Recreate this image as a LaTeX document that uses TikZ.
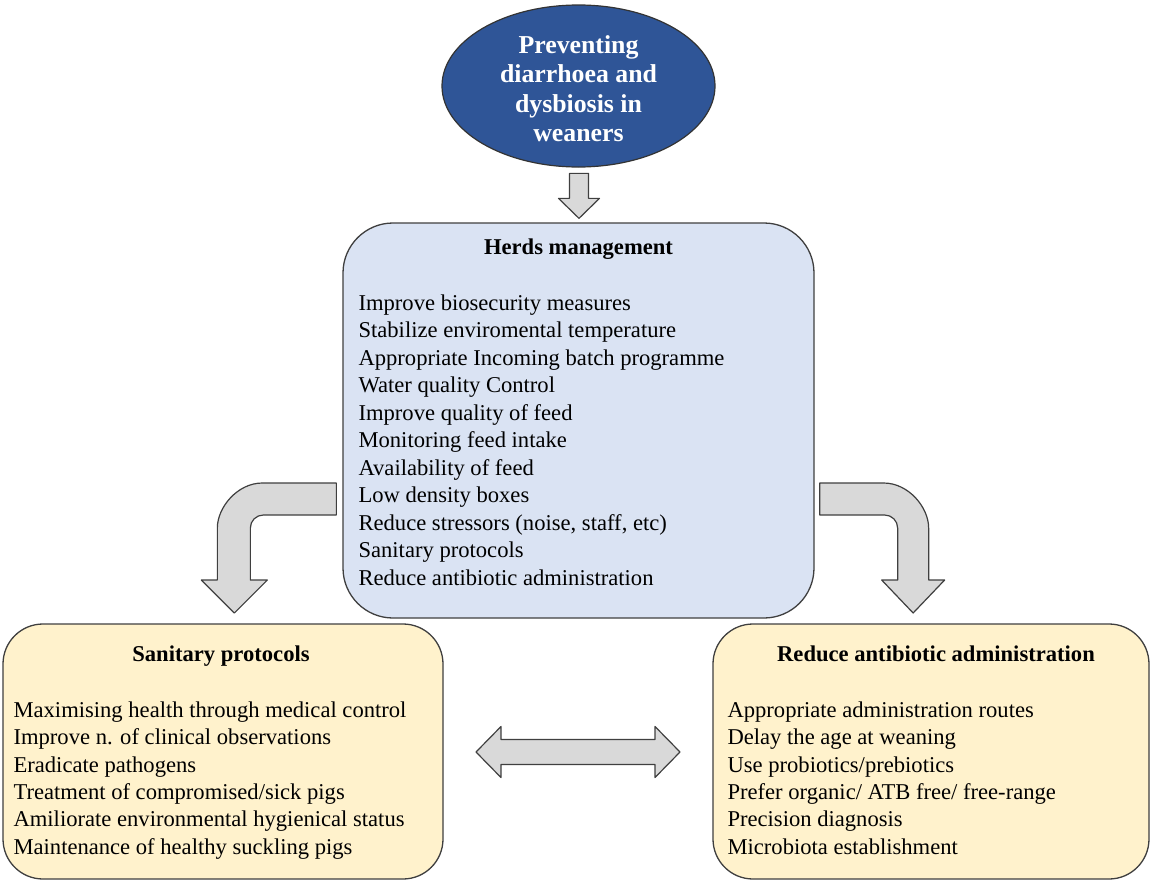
\documentclass[tikz,border=0pt]{standalone}
\usepackage{fontspec}
\setmainfont{Liberation Serif}
\usetikzlibrary{shapes.geometric, calc}

\definecolor{goalblue}{HTML}{2F5597}
\definecolor{herdsblue}{HTML}{DAE3F3}
\definecolor{boxyellow}{HTML}{FFF2CC}
\definecolor{arrowgray}{HTML}{D9D9D9}
\definecolor{edgegray}{HTML}{3F3F3F}

\begin{document}
\begin{tikzpicture}[
            x = 1pt, y = -1pt, % one unit per pixel, y runs downwards
            goal/.style = {ellipse, draw = black!80, fill = goalblue, line width = 1.2pt,
                minimum width = 273pt, minimum height = 162pt, inner sep = 0pt},
            goaltext/.style = {text = white, align = center, inner sep = 0pt,
                font = \fontsize{25.8}{29.5}\selectfont\bfseries},
            panel/.style = {draw = edgegray, line width = 1.3pt, inner sep = 0pt},
            headtext/.style = {anchor = base, inner sep = 0pt,
                font = \fontsize{22.6}{27.5}\selectfont\bfseries},
            itemtext/.style = {anchor = base west, inner sep = 0pt,
                font = \fontsize{22.6}{27.5}\selectfont},
            blockarrow/.style = {draw = edgegray, fill = arrowgray, line width = 1.2pt, line join = round}
        ]

        \useasboundingbox (0,0) rectangle (1152,881);

        % goal on top
        \node[goal] (goal) at (578.5,86) {};
        \node[goaltext] (goaltext) at (578.5,88.8) {Preventing\\diarrhoea and\\dysbiosis in\\weaners};

        % the three boxes
        \node[panel, fill = herdsblue, rounded corners = 50pt,
            minimum width = 471pt, minimum height = 395pt] (herds) at (578.5,420.5) {};
        \node[panel, fill = boxyellow, rounded corners = 40pt,
            minimum width = 440pt, minimum height = 255pt] (sanitary) at (223,751.5) {};
        \node[panel, fill = boxyellow, rounded corners = 40pt,
            minimum width = 436pt, minimum height = 255pt] (reduce) at (931,751.5) {};

        \node[headtext] (herdshead) at ($(herds.north)+(0,32.5)$) {Herds management};
        \node[headtext] (sanitaryhead) at ($(sanitary.north)+(-2,38)$) {Sanitary protocols};
        \node[headtext] (reducehead) at ($(reduce.north)+(5,38)$) {Reduce antibiotic administration};

        \foreach \txt [count=\i] in {Improve biosecurity measures, Stabilize enviromental temperature,
                Appropriate Incoming batch programme, Water quality Control, Improve quality of feed,
                Monitoring feed intake, Availability of feed, Low density boxes,
                {Reduce stressors (noise, staff, etc)}, Sanitary protocols, Reduce antibiotic administration}
            \node[itemtext] (herds\i) at ($(herds.north west)+(16,88+27.5*\i-27.5)$) {\txt};

        \foreach \txt [count=\i] in {Maximising health through medical control, Improve n. of clinical observations,
                Eradicate pathogens, Treatment of compromised/sick pigs,
                Amiliorate environmental hygienical status, Maintenance of healthy suckling pigs}
            \node[itemtext] (sanitary\i) at ($(sanitary.north west)+(11,94+27.4*\i-27.4)$) {\txt};

        \foreach \txt [count=\i] in {Appropriate administration routes, Delay the age at weaning,
                Use probiotics/prebiotics, Prefer organic/ ATB free/ free-range,
                Precision diagnosis, Microbiota establishment}
            \node[itemtext] (reduce\i) at ($(reduce.north west)+(15,94+27.4*\i-27.4)$) {\txt};

        % block arrows
        \draw[blockarrow, shift = {(herds.north)}] (-9,-49) -- (10,-49) -- (10,-24) -- (21,-24)
            -- (0.5,-4) -- (-20,-24) -- (-9,-24) -- cycle;
        \draw[blockarrow, shift = {(herds.west)}] (-6,62.5) -- (-80,62.5)
            .. controls (-104.8,62.5) and (-125,86.7) .. (-125,107.5) -- (-125,159.5) -- (-141,159.5)
            -- (-108,192.5) -- (-75,159.5) -- (-92,159.5) -- (-92,107.5)
            .. controls (-92,100.3) and (-86.2,94.5) .. (-79,94.5) -- (-6,94.5) -- cycle;
        \draw[blockarrow, shift = {(herds.east)}] (5,62.5) -- (69,62.5)
            .. controls (93.8,62.5) and (114,86.7) .. (114,107.5) -- (114,159.5) -- (130,159.5)
            -- (98.5,192.5) -- (67,159.5) -- (83,159.5) -- (83,107.5)
            .. controls (83,100.3) and (77.2,94.5) .. (70,94.5) -- (5,94.5) -- cycle;
        \draw[blockarrow, shift = {($(sanitary.east)!0.5!(reduce.west)$)}] (-102,0.5) -- (-77,-25)
            -- (-77,-12) -- (77,-12) -- (77,-25) -- (102,0.5) -- (77,26) -- (77,13) -- (-77,13)
            -- (-77,26) -- cycle;
    \end{tikzpicture}
\end{document}
